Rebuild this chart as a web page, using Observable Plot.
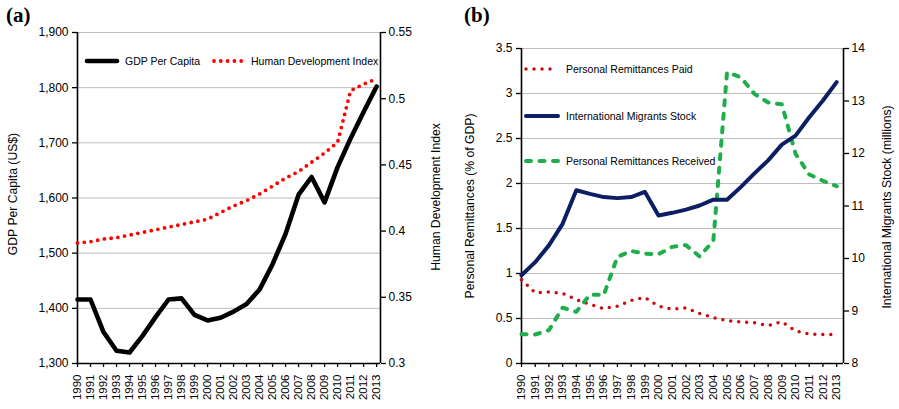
<!DOCTYPE html>
<html>
<head>
<meta charset="utf-8">
<script src="https://cdn.jsdelivr.net/npm/d3@7"></script>
<script src="https://cdn.jsdelivr.net/npm/@observablehq/plot@0.6"></script>
<style>
  html, body { margin: 0; padding: 0; background: #fff; }
  #wrap { position: relative; width: 899px; height: 409px; overflow: hidden; font-family: "Liberation Sans", Arial, sans-serif; }
  .panel { position: absolute; top: 0; }
  .tag { position: absolute; font-family: "Liberation Serif", "Times New Roman", serif; font-weight: bold; font-size: 21px; }
  .atitle { position: absolute; white-space: nowrap; font-size: 12.2px; transform: translate(-50%, -50%) rotate(-90deg); }
  .leg { position: absolute; display: flex; align-items: center; font-size: 10.5px; white-space: nowrap; }
  .leg svg { margin-right: 5px; }
</style>
</head>
<body>
<div id="wrap"></div>
<script>
// ---------- data ----------
const years = [1990,1991,1992,1993,1994,1995,1996,1997,1998,1999,2000,2001,2002,2003,2004,2005,2006,2007,2008,2009,2010,2011,2012,2013];
const gdpPerCapita = [1416,1416,1357,1323,1320,1350,1384,1416,1418,1388,1378,1383,1394,1408,1434,1480,1535,1606,1638,1592,1656,1708,1756,1802];
const hdi = [0.391,0.392,0.394,0.395,0.397,0.399,0.401,0.403,0.405,0.407,0.409,0.414,0.419,0.423,0.428,0.434,0.440,0.445,0.452,0.459,0.467,0.506,0.511,0.515];
const remitPaid = [0.93,0.785,0.796,0.78,0.71,0.656,0.61,0.637,0.70,0.733,0.637,0.604,0.618,0.556,0.511,0.474,0.463,0.452,0.422,0.463,0.363,0.326,0.322,0.322];
const remitReceived = [0.326,0.322,0.37,0.62,0.574,0.767,0.76,1.185,1.25,1.22,1.215,1.296,1.315,1.19,1.363,3.237,3.18,2.996,2.9,2.88,2.33,2.1,2.03,1.97];
const migrants = [9.68,9.93,10.25,10.66,11.30,11.23,11.17,11.15,11.17,11.27,10.82,10.87,10.93,11.01,11.12,11.12,11.36,11.62,11.87,12.17,12.34,12.69,13.01,13.36];

const gdpTicks = [1300,1400,1500,1600,1700,1800,1900];
const hdiTicks = [0.3,0.35,0.4,0.45,0.5,0.55];
const pctTicks = [0,0.5,1,1.5,2,2.5,3,3.5];
const migTicks = [8,9,10,11,12,13,14];

const labelsA = {tag: "(a)", left: "GDP Per Capita (US$)", right: "Human Development Index", s1: "GDP Per Capita", s2: "Human Development Index"};
const labelsB = {tag: "(b)", left: "Personal Remittances (% of GDP)", right: "International  Migrants Stock (millions)", s1: "Personal Remittances Paid", s2: "International Migrants Stock", s3: "Personal Remittances Received"};

// ---------- helpers ----------
const font = {fontFamily: "'Liberation Sans', Arial, sans-serif", fontSize: "12px", background: "transparent", overflow: "visible"};
const rows = years.map((y, i) => ({year: y, gdp: gdpPerCapita[i], hdi: hdi[i], paid: remitPaid[i], recv: remitReceived[i], mig: migrants[i]}));
const wrap = document.getElementById("wrap");

function common(xDomain, yDomain, leftTicks, leftFmt, rightTicksMapped, rightFmt) {
  return [
    Plot.gridY(leftTicks.slice(1), {stroke: "#bdbdbd", strokeOpacity: 1, strokeWidth: 1}),
    Plot.axisY(leftTicks, {anchor: "left", tickFormat: leftFmt, tickSize: 5, tickPadding: 4, label: null, strokeWidth: 1.3}),
    Plot.axisY(rightTicksMapped, {anchor: "right", tickFormat: rightFmt, tickSize: 5, tickPadding: 3, label: null, strokeWidth: 1.3}),
    Plot.axisX(years, {anchor: "bottom", tickRotate: -90, tickFormat: d => String(d), tickSize: 4, tickPadding: 7, fontSize: 11.5, label: null, strokeWidth: 1.3}),
    Plot.ruleX([xDomain[0], xDomain[1]], {stroke: "#000", strokeWidth: 1.6}),
    Plot.ruleY([yDomain[0]], {stroke: "#000", strokeWidth: 1.6})
  ];
}

// ---------- panel (a) ----------
const toLeftA = d3.scaleLinear().domain([0.3, 0.55]).range([1300, 1900]);
const xDomA = [1990, 2013.3];
const yDomA = [1300, 1900];
const plotA = Plot.plot({
  width: 450, height: 409,
  marginLeft: 77, marginRight: 70, marginTop: 32, marginBottom: 46,
  style: font,
  x: {domain: xDomA, axis: null},
  y: {domain: yDomA, axis: null},
  marks: [
    ...common(xDomA, yDomA, gdpTicks, d3.format(","), hdiTicks.map(toLeftA), d => String(+toLeftA.invert(d).toFixed(2))),
    Plot.line(rows, {x: "year", y: d => toLeftA(d.hdi), stroke: "#ff0000", strokeWidth: 3.8, strokeDasharray: "0 6.8", strokeLinecap: "round"}),
    Plot.line(rows, {x: "year", y: "gdp", stroke: "#000", strokeWidth: 4.6, strokeLinejoin: "round"})
  ]
});

// ---------- panel (b) ----------
const toLeftB = d3.scaleLinear().domain([8, 14]).range([0, 3.5]);
const xDomB = [1990, 2013.5];
const yDomB = [0, 3.5];
const plotB = Plot.plot({
  width: 449, height: 409,
  marginLeft: 71, marginRight: 56, marginTop: 48, marginBottom: 46,
  style: font,
  x: {domain: xDomB, axis: null},
  y: {domain: yDomB, axis: null},
  marks: [
    ...common(xDomB, yDomB, pctTicks, d => String(d), migTicks.map(toLeftB), d => String(Math.round(toLeftB.invert(d)))),
    Plot.line(rows, {x: "year", y: "paid", stroke: "#cc0a0a", strokeWidth: 3.5, strokeDasharray: "0 8", strokeLinecap: "round"}),
    Plot.line(rows, {x: "year", y: "recv", stroke: "#1fae4b", strokeWidth: 4, strokeDasharray: "5 8.5", strokeLinecap: "round"}),
    Plot.line(rows, {x: "year", y: d => toLeftB(d.mig), stroke: "#0c1f63", strokeWidth: 4, strokeLinejoin: "round"})
  ]
});

function place(el, left) { el.classList.add("panel"); el.style.left = left + "px"; wrap.appendChild(el); }
place(plotA, 0);
place(plotB, 450);

function html(cls, text, css) { const d = document.createElement("div"); d.className = cls; d.textContent = text; Object.assign(d.style, css); wrap.appendChild(d); return d; }
html("tag", labelsA.tag, {left: "6px", top: "3px"});
html("tag", labelsB.tag, {left: "464px", top: "3px"});
html("atitle", labelsA.left, {left: "13px", top: "194px"});
html("atitle", labelsA.right, {left: "436px", top: "197px"});
html("atitle", labelsB.left, {left: "470px", top: "206px"});
html("atitle", labelsB.right, {left: "887px", top: "207px"});

function legend(left, top, text, stroke, width, dash, w) {
  const d = document.createElement("div");
  d.className = "leg";
  Object.assign(d.style, {left: left + "px", top: (top - 8) + "px", height: "16px"});
  const ns = "http://www.w3.org/2000/svg";
  const s = document.createElementNS(ns, "svg");
  s.setAttribute("width", w); s.setAttribute("height", 16);
  const l = document.createElementNS(ns, "line");
  l.setAttribute("x1", 3); l.setAttribute("x2", w - 3); l.setAttribute("y1", 8); l.setAttribute("y2", 8);
  l.setAttribute("stroke", stroke); l.setAttribute("stroke-width", width); l.setAttribute("stroke-linecap", "round");
  if (dash) l.setAttribute("stroke-dasharray", dash);
  s.appendChild(l); d.appendChild(s);
  const t = document.createElement("span"); t.textContent = text; d.appendChild(t);
  wrap.appendChild(d);
}
legend(84, 61, labelsA.s1, "#000", 4.6, null, 36);
legend(211, 61, labelsA.s2, "#ff0000", 3.8, "0 6.8", 35);
legend(523, 69, labelsB.s1, "#cc0a0a", 3.5, "0 8", 38);
legend(523, 116, labelsB.s2, "#0c1f63", 4, null, 38);
legend(523, 161, labelsB.s3, "#1fae4b", 4, "5 8.5", 38);
</script>
</body>
</html>
